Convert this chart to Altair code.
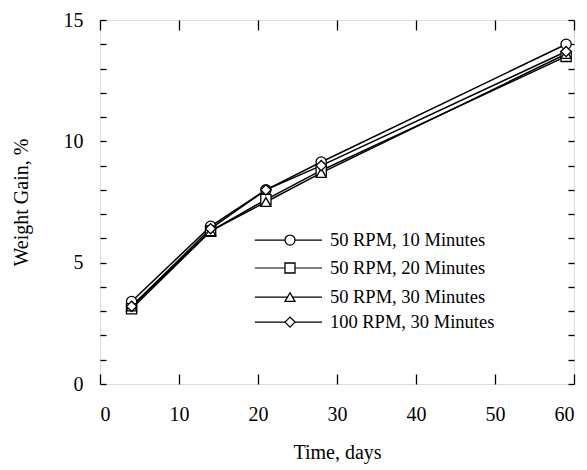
import altair as alt
import pandas as pd

days = [4, 14, 21, 28, 59]
series_names = ["50 RPM, 10 Minutes", "50 RPM, 20 Minutes", "50 RPM, 30 Minutes", "100 RPM, 30 Minutes"]
rpm50_10 = [3.4, 6.5, 8.0, 9.15, 14.0]
rpm50_20 = [3.1, 6.3, 7.6, 8.8, 13.5]
rpm50_30 = [3.2, 6.3, 7.5, 8.7, 13.6]
rpm100_30 = [3.2, 6.4, 8.0, 9.0, 13.7]
shapes = ["circle", "square", "triangle-up", "diamond"]

# legend placement (in data units, inside the plot)
legend_y = [5.93, 4.78, 3.58, 2.55]
legend_x_start = 19.6
legend_x_end = 28.1
legend_x_mark = 24.05
legend_x_text = 29.1

FONT = "Liberation Serif"

rows = []
for name, vals in zip(series_names, [rpm50_10, rpm50_20, rpm50_30, rpm100_30]):
    for d, v in zip(days, vals):
        rows.append({"series": name, "day": d, "gain": v})
df = pd.DataFrame(rows)

leg = pd.DataFrame({
    "series": series_names,
    "y": legend_y,
    "x0": [legend_x_start] * 4,
    "x1": [legend_x_end] * 4,
    "xm": [legend_x_mark] * 4,
    "xt": [legend_x_text] * 4,
})

xscale = alt.Scale(domain=[0, 60], nice=False, zero=False)
yscale = alt.Scale(domain=[0, 15], nice=False, zero=False)
shape_scale = alt.Scale(domain=series_names, range=shapes)

x_axis = alt.Axis(
    values=[0, 10, 20, 30, 40, 50, 60], title="Time, days", orient="bottom",
    offset=-10, tickSize=10, domain=False, grid=False, tickColor="black", tickWidth=1.3,
    labelFont=FONT, labelFontSize=20, labelColor="black", labelPadding=20,
    titleFont=FONT, titleFontSize=20, titleFontWeight="normal", titleColor="black", titlePadding=18,
)
y_axis = alt.Axis(
    values=list(range(0, 16)), title="Weight Gain, %", orient="left",
    labelExpr="datum.value % 5 == 0 ? datum.label : ''",
    offset=-6, tickSize=6, domain=False, grid=False, tickColor="black", tickWidth=1.3,
    labelFont=FONT, labelFontSize=20, labelColor="black", labelPadding=17,
    titleFont=FONT, titleFontSize=20, titleFontWeight="normal", titleColor="black", titlePadding=32,
)

base = alt.Chart(df)

lines = base.mark_line(color="black", strokeWidth=1.5).encode(
    x=alt.X("day:Q", scale=xscale, axis=x_axis),
    y=alt.Y("gain:Q", scale=yscale, axis=y_axis),
    detail="series:N",
)

points = base.mark_point(filled=True, fill="white", stroke="black", strokeWidth=1.3, size=105, opacity=1).encode(
    x=alt.X("day:Q", scale=xscale, axis=None),
    y=alt.Y("gain:Q", scale=yscale, axis=None),
    shape=alt.Shape("series:N", scale=shape_scale, legend=None),
)

# top and right inward ticks
top_ticks = alt.Chart(pd.DataFrame({"v": [0]})).mark_point(opacity=0).encode(
    x=alt.X("v:Q", scale=xscale, axis=alt.Axis(
        values=[0, 10, 20, 30, 40, 50, 60], orient="top", offset=-10, tickSize=10,
        domain=False, labels=False, title=None, grid=False, tickColor="black", tickWidth=1.3)),
    y=alt.Y("v:Q", scale=yscale, axis=None),
)
right_ticks = alt.Chart(pd.DataFrame({"v": [0]})).mark_point(opacity=0).encode(
    x=alt.X("v:Q", scale=xscale, axis=None),
    y=alt.Y("v:Q", scale=yscale, axis=alt.Axis(
        values=list(range(0, 16)), orient="right", offset=-6, tickSize=6,
        domain=False, labels=False, title=None, grid=False, tickColor="black", tickWidth=1.3)),
)

leg_base = alt.Chart(leg)
leg_rules = leg_base.mark_rule(color="black", strokeWidth=1.2).encode(
    x=alt.X("x0:Q", scale=xscale, axis=None), x2="x1:Q",
    y=alt.Y("y:Q", scale=yscale, axis=None),
)
leg_pts = leg_base.mark_point(filled=True, fill="white", stroke="black", strokeWidth=1.3, size=100, opacity=1).encode(
    x=alt.X("xm:Q", scale=xscale, axis=None), y=alt.Y("y:Q", scale=yscale, axis=None),
    shape=alt.Shape("series:N", scale=shape_scale, legend=None),
)
leg_txt = leg_base.mark_text(align="left", baseline="middle", font=FONT, fontSize=18.5, color="black").encode(
    x=alt.X("xt:Q", scale=xscale, axis=None), y=alt.Y("y:Q", scale=yscale, axis=None), text="series:N",
)

chart = alt.layer(
    lines, points, top_ticks, right_ticks, leg_rules, leg_pts, leg_txt
).resolve_axis(x="independent", y="independent").properties(
    width=474, height=364,
    autosize=alt.AutoSizeParams(type="none"),
    padding={"left": 100, "top": 20, "right": 13, "bottom": 86},
).configure_view(stroke="black", strokeWidth=1.5).configure(background="white")

chart.save("out.html", embed_options={"renderer": "svg", "actions": False})
